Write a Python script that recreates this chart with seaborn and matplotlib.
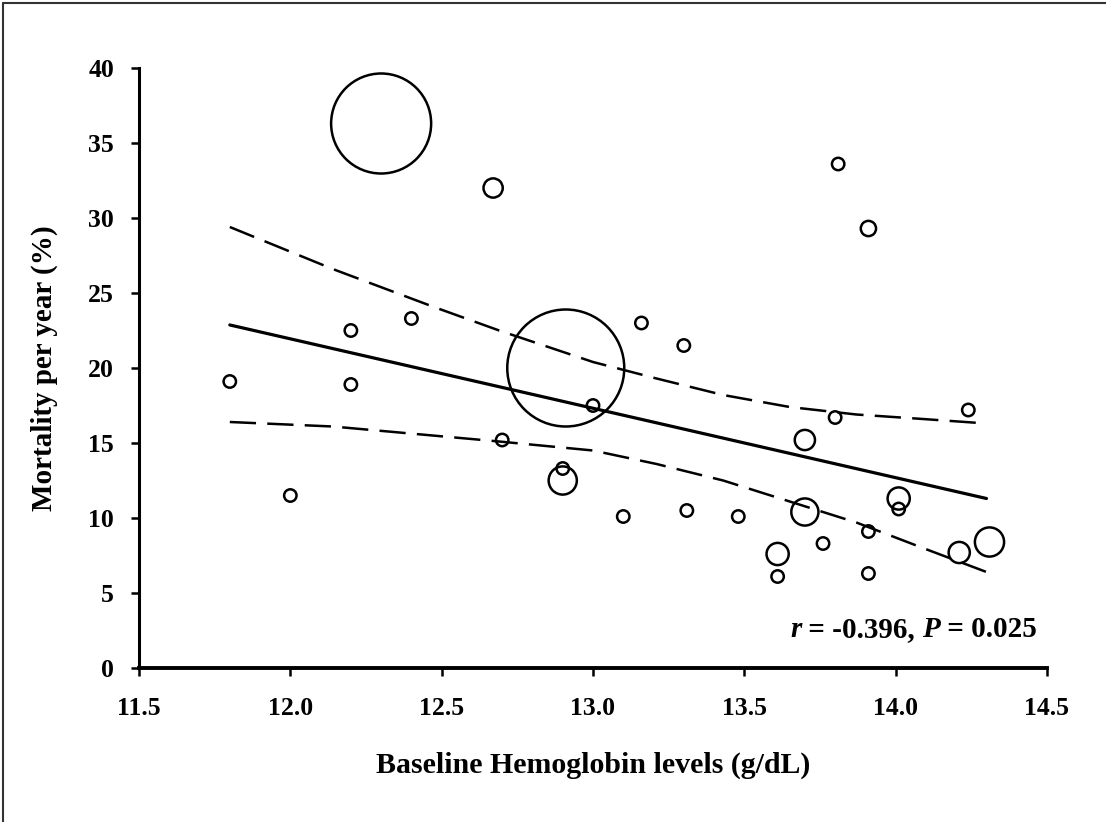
import numpy as np
import pandas as pd
import matplotlib
matplotlib.use("Agg")
import matplotlib.pyplot as plt
import seaborn as sns
from matplotlib.lines import Line2D

# ---------------- data ----------------
hemoglobin = [11.80, 12.00, 12.20, 12.20, 12.30, 12.40, 12.67, 12.70, 12.90, 12.90,
              12.91, 13.00, 13.10, 13.16, 13.30, 13.31, 13.48, 13.61, 13.61, 13.70,
              13.70, 13.76, 13.80, 13.81, 13.91, 13.91, 13.91, 14.01, 14.01, 14.21,
              14.24, 14.31]
mortality = [19.1, 11.5, 22.5, 18.9, 36.3, 23.3, 32.0, 15.2, 13.3, 12.5,
             20.0, 17.5, 10.1, 23.0, 21.5, 10.5, 10.1, 7.6, 6.1, 15.2,
             10.4, 8.3, 16.7, 33.6, 29.3, 9.1, 6.3, 11.3, 10.6, 7.7,
             17.2, 8.4]
weight = [40, 40, 40, 40, 2778, 40, 100, 40, 40, 218,
          3802, 40, 40, 40, 40, 40, 40, 134, 40, 111,
          202, 40, 40, 40, 62, 40, 40, 134, 40, 122,
          40, 234]

fit_x = [11.8, 14.3]
fit_y = [22.87, 11.3]

band_x = [11.8, 12.14, 12.47, 12.69, 13.0, 13.21, 13.43, 13.65, 13.87, 14.09, 14.3]
band_upper = [29.4, 26.6, 24.1, 22.5, 20.4, 19.3, 18.2, 17.4, 16.9, 16.6, 16.3]
band_lower = [16.4, 16.1, 15.5, 15.1, 14.5, 13.6, 12.5, 11.1, 9.7, 8.0, 6.4]

xticks = [11.5, 12.0, 12.5, 13.0, 13.5, 14.0, 14.5]
xtick_labels = ["11.5", "12.0", "12.5", "13.0", "13.5", "14.0", "14.5"]
yticks = [0, 5, 10, 15, 20, 25, 30, 35, 40]
ytick_labels = ["0", "5", "10", "15", "20", "25", "30", "35", "40"]

df = pd.DataFrame({"hb": hemoglobin, "mort": mortality, "w": weight})

# ---------------- style ----------------
sns.set_style("ticks")
plt.rcParams["font.family"] = ["Liberation Serif", "DejaVu Serif"]
plt.rcParams["font.weight"] = "bold"
plt.rcParams["axes.labelweight"] = "bold"
plt.rcParams["text.color"] = "black"
plt.rcParams["axes.labelcolor"] = "black"
plt.rcParams["axes.edgecolor"] = "black"
plt.rcParams["xtick.color"] = "black"
plt.rcParams["ytick.color"] = "black"

DPI = 100
fig = plt.figure(figsize=(11.06, 8.22), dpi=DPI)
ax = fig.add_axes([139 / 1106, 1 - 668 / 822, (1047 - 139) / 1106, (668 - 68) / 822])

def px_area(r_px):
    return (2 * r_px * 72 / DPI) ** 2

sns.scatterplot(data=df, x="hb", y="mort", size="w",
                sizes=(px_area(6.2), px_area(58.5)), size_norm=(min(weight), max(weight)),
                legend=False, facecolor="none", edgecolor="black", linewidth=1.8,
                ax=ax, zorder=3)
for c in ax.collections:
    c.set_facecolor("none")
    c.set_edgecolor("black")

sns.lineplot(x=fit_x, y=fit_y, ax=ax, color="black", linewidth=2.3)
sns.lineplot(x=band_x, y=band_upper, ax=ax, color="black", linewidth=1.8,
             linestyle=(0, (10.5, 4.5)))
sns.lineplot(x=band_x, y=band_lower, ax=ax, color="black", linewidth=1.8,
             linestyle=(0, (10.5, 4.5)))

ax.set_xlim(11.5, 14.5)
ax.set_ylim(0, 40)
ax.set_xticks(xticks, xtick_labels)
ax.set_yticks(yticks, ytick_labels)
sns.despine(ax=ax)
ax.spines["left"].set_linewidth(2.2)
ax.spines["bottom"].set_linewidth(2.8)
ax.tick_params(axis="both", direction="out", length=6, width=1.8, labelsize=18.5, colors="black")
ax.tick_params(axis="y", pad=12)
ax.tick_params(axis="x", pad=15)
for lab in ax.get_xticklabels() + ax.get_yticklabels():
    lab.set_fontweight("bold")

ax.set_xlabel("Baseline Hemoglobin levels (g/dL)", fontsize=21.5, fontweight="bold", color="black")
ax.set_ylabel("Mortality per year (%)", fontsize=21, fontweight="bold", color="black")
ax.xaxis.set_label_coords(0.5, -0.14)
ax.yaxis.set_label_coords(-0.089, 0.5)

# annotation, chained from the right
fs = 21
t4 = ax.text(14.467, 1.65, " = 0.025", fontsize=fs, fontweight="bold",
             ha="right", va="bottom", color="black")
t3 = ax.annotate("P", xy=(0, 0), xycoords=t4, fontsize=fs, fontweight="bold",
                 fontstyle="italic", ha="right", va="bottom", color="black")
t2 = ax.annotate(" = -0.396, ", xy=(0, 0), xycoords=t3, fontsize=fs, fontweight="bold",
                 ha="right", va="bottom", color="black")
t1 = ax.annotate("r", xy=(0, 0), xycoords=t2, fontsize=fs, fontweight="bold",
                 fontstyle="italic", ha="right", va="bottom", color="black")

# figure frame lines (left and top)
fig.add_artist(Line2D([3 / 1106, 3 / 1106], [0, 1 - 3 / 822], transform=fig.transFigure,
                      color="#333333", linewidth=1.5))
fig.add_artist(Line2D([3 / 1106, 1], [1 - 3 / 822, 1 - 3 / 822], transform=fig.transFigure,
                      color="#333333", linewidth=1.5))

fig.savefig("out.png", dpi=DPI)
